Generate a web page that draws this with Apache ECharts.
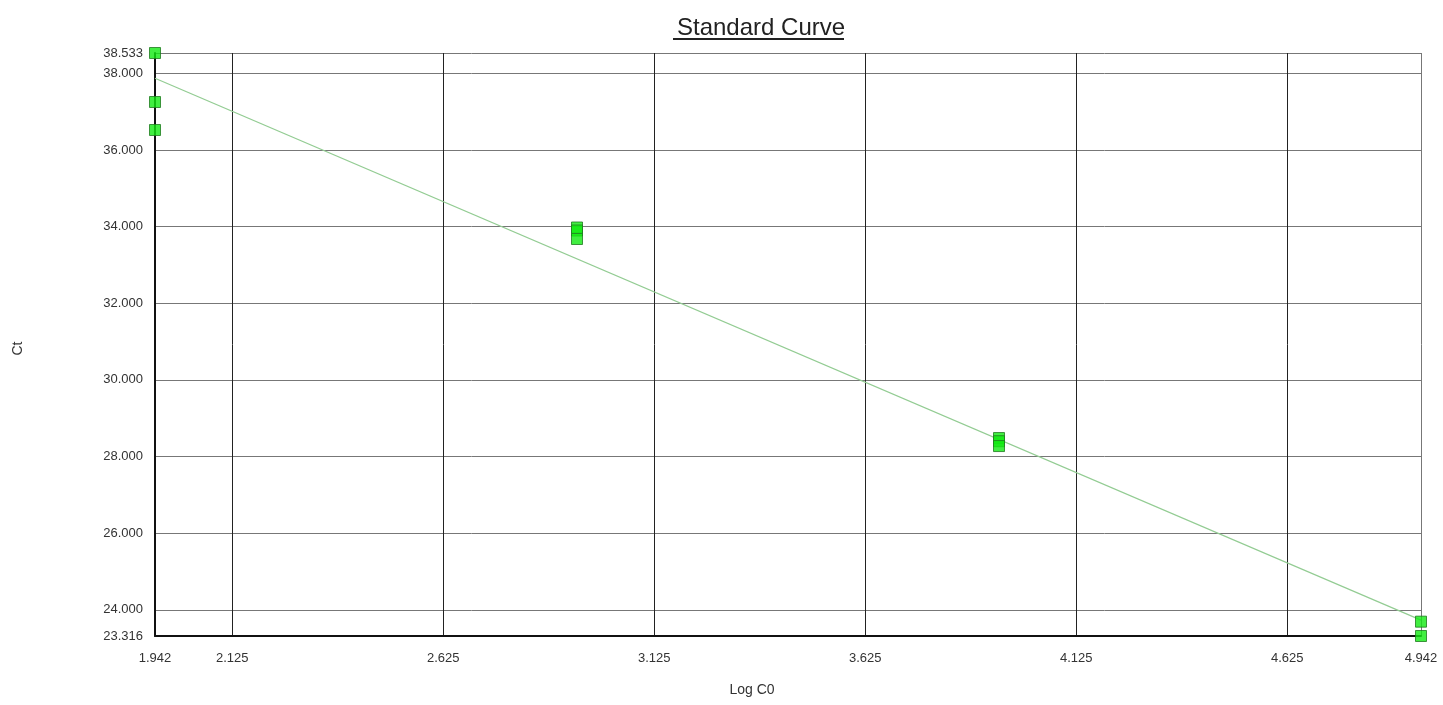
<!DOCTYPE html>
<html>
<head>
<meta charset="utf-8">
<title>Standard Curve</title>
<script src="https://cdn.jsdelivr.net/npm/echarts@6/dist/echarts.min.js"></script>
<style>
  html, body { margin: 0; padding: 0; background: #ffffff; }
  #chart { width: 1443px; height: 705px; }
</style>
</head>
<body>
<div id="chart"></div>
<script>
// Standard samples: log of starting quantity and measured threshold cycle
const logC0 = [1.942, 1.942, 1.942, 2.942, 2.942, 2.942, 3.942, 3.942, 3.942, 4.942, 4.942];
const ct    = [38.533, 37.254, 36.523, 33.978, 33.900, 33.678, 28.483, 28.400, 28.274, 23.690, 23.316];

// Fitted standard curve, drawn between its two end points
const fitLogC0 = [1.942, 4.942];
const fitCt    = [37.873, 23.730];

// Axis ticks
const xTicks = [1.942, 2.125, 2.625, 3.125, 3.625, 4.125, 4.625, 4.942];
const yTicks = [23.316, 24, 26, 28, 30, 32, 34, 36, 38, 38.533];

const FONT = '"Liberation Sans", Arial, sans-serif';

const chart = echarts.init(document.getElementById('chart'), null, { renderer: 'canvas' });

chart.setOption({
  backgroundColor: '#ffffff',
  animation: false,
  title: {
    text: 'Standard Curve',
    left: 672,
    top: 11,
    textStyle: { fontFamily: FONT, fontSize: 24, fontWeight: 'normal', color: '#222' }
  },
  graphic: [
    {
      type: 'line',
      shape: { x1: 673, y1: 39, x2: 844, y2: 39 },
      style: { stroke: '#222', lineWidth: 2 }
    }
  ],
  grid: { left: 155, right: 22, top: 53, bottom: 69, containLabel: false },
  xAxis: {
    type: 'value',
    min: xTicks[0],
    max: xTicks[xTicks.length - 1],
    name: 'Log C0',
    nameLocation: 'middle',
    nameGap: 47,
    nameTextStyle: { fontFamily: FONT, fontSize: 14, color: '#333', padding: [0, 72, 0, 0] },
    axisLine: { show: true, onZero: false, lineStyle: { color: '#111', width: 2 } },
    axisTick: { show: false, customValues: xTicks },
    axisLabel: {
      customValues: xTicks,
      margin: 16,
      fontFamily: FONT,
      fontSize: 13,
      color: '#333',
      formatter: v => v.toFixed(3)
    },
    splitLine: {
      show: true,
      lineStyle: {
        color: ['#111', '#222', '#222', '#222', '#222', '#222', '#222', '#777'],
        width: 1
      }
    }
  },
  yAxis: {
    type: 'value',
    min: yTicks[0],
    max: yTicks[yTicks.length - 1],
    name: 'Ct',
    nameLocation: 'middle',
    nameGap: 130,
    nameRotate: 90,
    nameTextStyle: { fontFamily: FONT, fontSize: 14, color: '#333', padding: [0, 8, 0, 0] },
    axisLine: { show: true, onZero: false, lineStyle: { color: '#111', width: 2 } },
    axisTick: { show: false, customValues: yTicks },
    axisLabel: {
      customValues: yTicks,
      margin: 12,
      fontFamily: FONT,
      fontSize: 13,
      color: '#333',
      formatter: v => v.toFixed(3)
    },
    splitLine: { show: true, lineStyle: { color: '#777', width: 1 } }
  },
  series: [
    {
      name: 'Fit',
      type: 'line',
      data: fitLogC0.map((x, i) => [x, fitCt[i]]),
      symbol: 'none',
      lineStyle: { color: '#93cc93', width: 1.2 },
      silent: true,
      z: 2
    },
    {
      name: 'Standards',
      type: 'scatter',
      data: logC0.map((x, i) => [x, ct[i]]),
      symbol: 'rect',
      symbolSize: 11,
      clip: false,
      itemStyle: { color: '#12ea12', borderColor: '#1f7a1f', borderWidth: 1 },
      z: 3
    }
  ]
});
</script>
</body>
</html>
